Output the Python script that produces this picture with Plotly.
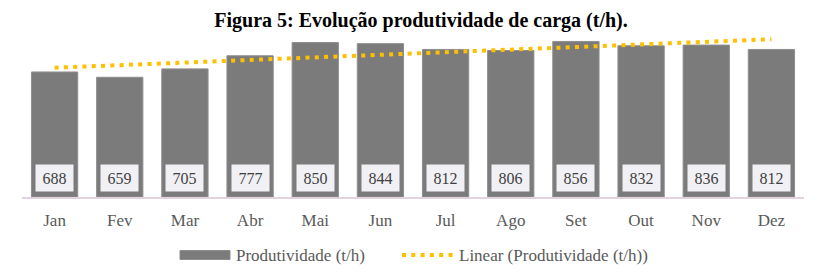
import numpy as np
import plotly.graph_objects as go

months = ["Jan", "Fev", "Mar", "Abr", "Mai", "Jun", "Jul", "Ago", "Set", "Out", "Nov", "Dez"]
produtividade = [688, 659, 705, 777, 850, 844, 812, 806, 856, 832, 836, 812]

title_text = "Figura 5: Evolução produtividade de carga (t/h)."
bar_name = "Produtividade (t/h)"
trend_name = "Linear (Produtividade (t/h))"

# Linear trend (least squares) computed from data
xi = np.arange(1, len(produtividade) + 1)
slope, intercept = np.polyfit(xi, produtividade, 1)
trend = list(slope * xi + intercept)

SERIF = "Liberation Serif"
W, H = 826, 273
# page has an 8px body margin; compensate
OFF = 8
L, R, T, B = 22 - OFF, W - (804 - OFF), 30 - OFF, H - (197 - OFF)
PW, PH = W - L - R, H - T - B


def px_x(px):  # page pixel -> paper x
    return (px - OFF - L) / PW


def px_y(py):  # page pixel -> paper y
    return (H - B - (py - OFF)) / PH


DOT = dict(color="#FFC000", width=4, dash="4px,5.3px")

fig = go.Figure()
fig.add_trace(go.Bar(
    x=months, y=produtividade, name=bar_name,
    marker=dict(color="#7B7B7B", line=dict(color="#8E8E8E", width=1)),
    width=0.71, showlegend=False,
))
fig.add_trace(go.Scatter(
    x=months, y=trend, name=trend_name, mode="lines",
    line=DOT, showlegend=False,
))

for m, v in zip(months, produtividade):
    fig.add_annotation(
        x=m, y=104, xref="x", yref="y", text=str(v), showarrow=False,
        font=dict(family=SERIF, size=16, color="#404040"),
        bgcolor="#F1F1F5", width=37, height=26, borderpad=0,
    )

# manual legend
ly = px_y(255)
fig.add_shape(type="rect", xref="paper", yref="paper",
              x0=px_x(180), x1=px_x(230), y0=px_y(259.5), y1=px_y(250.5),
              fillcolor="#7B7B7B", line=dict(color="#8E8E8E", width=1))
fig.add_annotation(x=px_x(234), y=ly, xref="paper", yref="paper", xanchor="left", yanchor="middle",
                   text=bar_name, showarrow=False,
                   font=dict(family=SERIF, size=17, color="#595959"))
fig.add_shape(type="line", xref="paper", yref="paper",
              x0=px_x(402), x1=px_x(455), y0=ly, y1=ly, line=DOT)
fig.add_annotation(x=px_x(457), y=ly, xref="paper", yref="paper", xanchor="left", yanchor="middle",
                   text=trend_name, showarrow=False,
                   font=dict(family=SERIF, size=17, color="#595959"))

fig.update_layout(
    width=W, height=H,
    margin=dict(l=L, r=R, t=T, b=B),
    paper_bgcolor="white", plot_bgcolor="white",
    title=dict(text="<b>" + title_text + "</b>", x=(421 - OFF) / W, xanchor="center",
               y=1 - (20 - OFF) / H, yanchor="middle",
               font=dict(family=SERIF, size=20, color="black")),
    xaxis=dict(showgrid=False, showline=True, linecolor="#E2D2E2", linewidth=1.5,
               tickfont=dict(family=SERIF, size=17, color="#595959"),
               ticks="", ticklabelstandoff=7),
    yaxis=dict(range=[0, 919], visible=False, showgrid=False, zeroline=False),
    showlegend=False,
    bargap=0.29,
)

fig.write_html("out.html")
